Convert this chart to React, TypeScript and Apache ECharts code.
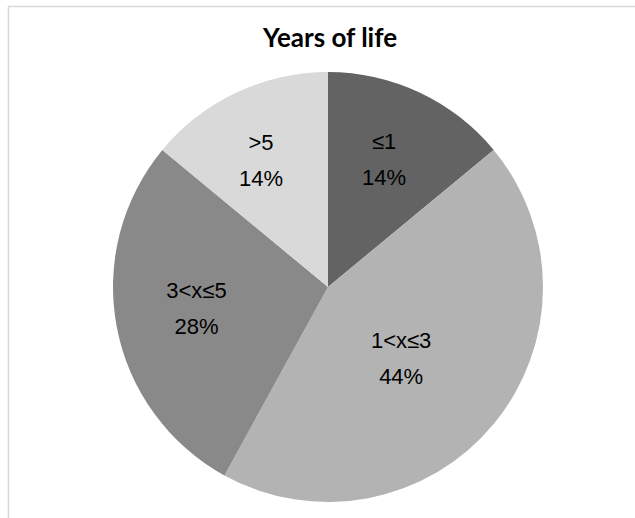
import React, { useEffect, useRef } from "react";
import * as echarts from "echarts";

const categories = ["≤1", "1<x≤3", "3<x≤5", ">5"];
const values = [14, 44, 28, 14];
const colors = ["#636363", "#b3b3b3", "#898989", "#d9d9d9"];
// label nudges relative to the default inside position
const labelDx = [9, -12, -23, -20];
const labelDy = [-28, 1, 1, -27];

export default function App() {
  const ref = useRef<HTMLDivElement>(null);
  useEffect(() => {
    document.body.style.margin = "0";
    const chart = echarts.init(ref.current!, null, { renderer: "svg" });
    chart.setOption({
      animation: false,
      backgroundColor: "#ffffff",
      textStyle: { fontFamily: "Liberation Sans" },
      title: {
        text: "Years of life",
        left: 258,
        top: 19,
        textStyle: {
          fontFamily: "Lato",
          fontWeight: "bold",
          fontSize: 26,
          color: "#000000",
        },
      },
      graphic: [
        {
          type: "rect",
          shape: { x: 8.5, y: 6.5, width: 700, height: 600 },
          style: { fill: "none", stroke: "#d9d9d9", lineWidth: 1.5 },
          silent: true,
          z: -1,
        },
      ],
      series: [
        {
          type: "pie",
          center: [328, 287],
          radius: 215,
          startAngle: 90,
          clockwise: true,
          data: categories.map((c, i) => ({
            name: c,
            value: values[i],
            itemStyle: { color: colors[i] },
          })),
          itemStyle: { borderWidth: 0 },
          label: {
            show: true,
            position: "inside",
            formatter: (p: any) => `${p.name}\n${p.value}%`,
            fontFamily: "Liberation Sans",
            fontWeight: "normal",
            fontSize: 22,
            lineHeight: 36,
            color: "#000000",
          },
          labelLine: { show: false },
          labelLayout: (p: any) => ({
            dx: labelDx[p.dataIndex],
            dy: labelDy[p.dataIndex],
          }),
          emphasis: { disabled: true },
        },
      ],
    });
    return () => chart.dispose();
  }, []);
  return <div ref={ref} style={{ width: 635, height: 518 }} />;
}
